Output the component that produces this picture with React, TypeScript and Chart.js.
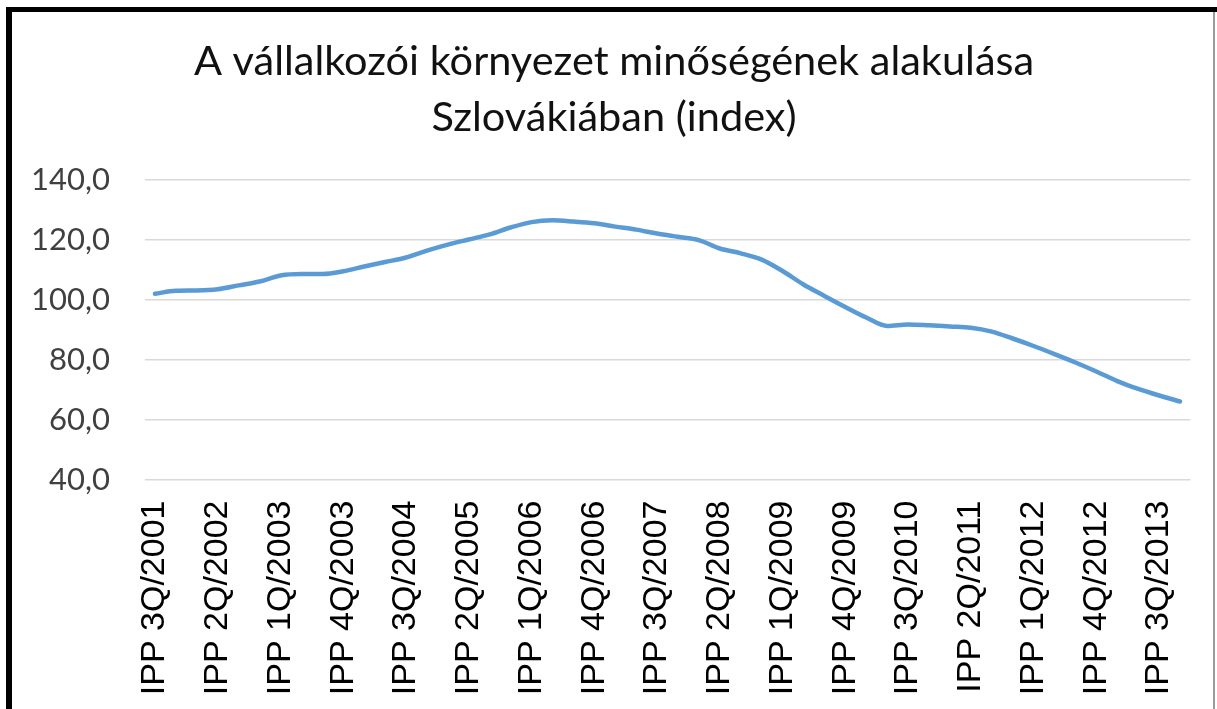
import React, { useEffect, useRef } from "react";
import { Chart, registerables } from "chart.js";

Chart.register(...registerables);

const quarters = ["1Q", "2Q", "3Q", "4Q"];
const startYear = 2001;
const startQuarter = 2; // index of 3Q

const indexValues: number[] = [
  101.9, 102.9, 103.0, 103.4, 104.7, 106.0, 108.0, 108.5, 108.5, 109.4,
  111.0, 112.5, 114.0, 116.3, 118.3, 120.0, 121.7, 124.0, 125.8, 126.4,
  126.0, 125.4, 124.3, 123.3, 122.0, 120.9, 119.8, 117.0, 115.4, 113.3,
  109.5, 105.0, 101.2, 97.5, 94.0, 91.2, 91.7, 91.4, 91.0, 90.6,
  89.3, 87.0, 84.5, 81.8, 79.0, 76.0, 72.8, 70.2, 68.0, 66.0,
];

const categoryLabels: string[] = indexValues.map((_, i) => {
  const q = startQuarter + i;
  return `IPP ${quarters[q % 4]}/${startYear + Math.floor(q / 4)}`;
});

const titleLines = ["A vállalkozói környezet minőségének alakulása", "Szlovákiában (index)"];
const yMin = 40;
const yMax = 140;
const yStep = 20;

const framePlugin = {
  id: "frame",
  beforeDraw(chart: any) {
    const ctx = chart.ctx;
    ctx.save();
    ctx.fillStyle = "#ffffff";
    ctx.fillRect(0, 0, chart.width, chart.height);
    ctx.fillStyle = "#000000";
    ctx.fillRect(6, 7, 6, chart.height - 7);
    ctx.fillRect(6, 7, chart.width - 6, 5);
    ctx.fillStyle = "#9a9a9a";
    ctx.fillRect(1213, 12, 2, chart.height - 12);
    ctx.restore();
  },
};

const titlePlugin = {
  id: "twoLineTitle",
  afterDraw(chart: any) {
    const ctx = chart.ctx;
    ctx.save();
    ctx.fillStyle = "#111111";
    ctx.font = "normal 41.5px Lato";
    ctx.textAlign = "center";
    ctx.textBaseline = "middle";
    ctx.fillText(titleLines[0], 614, 62);
    ctx.fillText(titleLines[1], 614, 118);
    ctx.restore();
  },
};

export default function App() {
  const canvasRef = useRef<HTMLCanvasElement | null>(null);

  useEffect(() => {
    if (!canvasRef.current) return;
    const chart = new Chart(canvasRef.current, {
      type: "line",
      data: {
        labels: categoryLabels,
        datasets: [
          {
            data: indexValues,
            borderColor: "#5b9bd5",
            backgroundColor: "#5b9bd5",
            borderWidth: 4.5,
            pointRadius: 0,
            tension: 0.4,
            cubicInterpolationMode: "monotone",
            borderCapStyle: "round",
          },
        ],
      },
      options: {
        animation: false,
        responsive: false,
        maintainAspectRatio: false,
        layout: { padding: { left: 14, right: 26.5, top: 179.5, bottom: 0 } },
        plugins: {
          legend: { display: false },
          tooltip: { enabled: false },
          title: { display: false },
        },
        scales: {
          x: {
            offset: true,
            grid: { display: false, drawTicks: false },
            border: { display: false },
            ticks: {
              autoSkip: false,
              maxRotation: 90,
              minRotation: 90,
              padding: 21,
              color: "#000000",
              font: { family: "Liberation Sans", size: 34 },
              callback: (_v: any, i: number) => (i % 3 === 0 ? categoryLabels[i] : ""),
            },
            afterFit: (scale: any) => {
              scale.height = 229.5;
              scale.paddingLeft = 0;
              scale.paddingRight = 0;
            },
          },
          y: {
            min: yMin,
            max: yMax,
            grid: { color: "#d9d9d9", lineWidth: 1.5, drawTicks: false },
            border: { display: false },
            ticks: {
              stepSize: yStep,
              padding: 34.5,
              color: "#404040",
              font: { family: "Lato", size: 31 },
              callback: (v: any) => Number(v).toFixed(1).replace(".", ","),
            },
            afterFit: (scale: any) => {
              scale.width = 130.5;
              scale.paddingTop = 0;
              scale.paddingBottom = 0;
            },
          },
        },
      },
      plugins: [framePlugin, titlePlugin],
    });
    return () => chart.destroy();
  }, []);

  return (
    <div style={{ position: "fixed", left: 0, top: 0, width: 1217, height: 709, background: "#fff" }}>
      <canvas ref={canvasRef} width={1217} height={709} style={{ width: 1217, height: 709 }} />
    </div>
  );
}
